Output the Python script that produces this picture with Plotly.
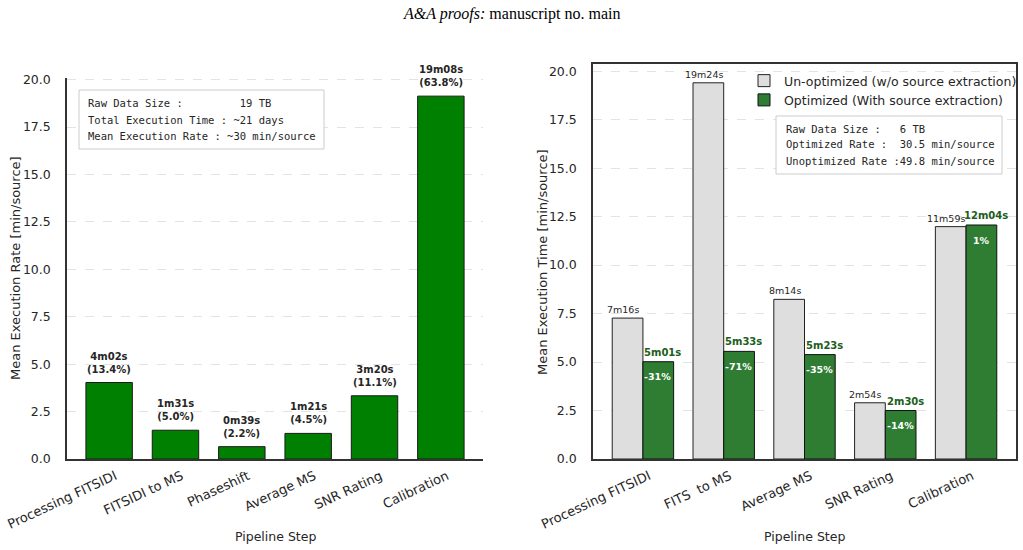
import plotly.graph_objects as go

# ---------------- data ----------------
left_steps = ["Processing FITSIDI", "FITSIDI to MS", "Phaseshift", "Average MS", "SNR Rating", "Calibration"]
left_values = [4.033, 1.517, 0.65, 1.35, 3.333, 19.133]
left_time_labels = ["4m02s", "1m31s", "0m39s", "1m21s", "3m20s", "19m08s"]
left_pct_labels = ["13.4%", "5.0%", "2.2%", "4.5%", "11.1%", "63.8%"]

right_steps = ["Processing FITSIDI", "FITS  to MS", "Average MS", "SNR Rating", "Calibration"]
unopt_values = [7.267, 19.4, 8.233, 2.9, 11.983]
opt_values = [5.017, 5.55, 5.383, 2.5, 12.067]
unopt_labels = ["7m16s", "19m24s", "8m14s", "2m54s", "11m59s"]
opt_labels = ["5m01s", "5m33s", "5m23s", "2m30s", "12m04s"]
change_labels = ["-31%", "-71%", "-35%", "-14%", "1%"]

left_info = ["Raw Data Size :         19 TB",
             "Total Execution Time : ~21 days",
             "Mean Execution Rate : ~30 min/source"]
right_info = ["Raw Data Size :   6 TB",
              "Optimized Rate :  30.5 min/source",
              "Unoptimized Rate :49.8 min/source"]

x_title = "Pipeline Step"
left_y_title = "Mean Execution Rate [min/source]"
right_y_title = "Mean Execution Time [min/source]"

# ---------------- style ----------------
W, H = 1023, 550
SANS = "DejaVu Sans"
MONO = "DejaVu Sans Mono"
TXT = "#262626"
GREEN = "#008000"
GREY = "#dedede"
DGREEN = "#2e7d32"
DGREEN_TXT = "#1b5e20"
GRID = "#e3e3e3"
SPINE = "#333333"


def px_x(p):
    return p / W


def px_y(p):
    return 1 - p / H


def nb(s):
    return s.replace(" ", "\u00a0")


fig = go.Figure()

# left chart
fig.add_trace(go.Bar(
    x=left_steps, y=left_values, width=0.7,
    marker=dict(color=GREEN, line=dict(color="#1a1a1a", width=1)),
    xaxis="x", yaxis="y", showlegend=False, hoverinfo="skip"))

# right chart
fig.add_trace(go.Bar(
    x=right_steps, y=unopt_values, width=0.38, offset=-0.38,
    name="Un-optimized (w/o source extraction)",
    marker=dict(color=GREY, line=dict(color="#222222", width=1)),
    xaxis="x2", yaxis="y2", hoverinfo="skip"))
fig.add_trace(go.Bar(
    x=right_steps, y=opt_values, width=0.38, offset=0.0,
    name="Optimized (With source extraction)",
    marker=dict(color=DGREEN, line=dict(color="#111111", width=1)),
    xaxis="x2", yaxis="y2", hoverinfo="skip"))

annotations = []
for s, v, t, p in zip(left_steps, left_values, left_time_labels, left_pct_labels):
    annotations.append(dict(
        x=s, y=v, xref="x", yref="y", text=f"<b>{t}<br>({p})</b>",
        showarrow=False, yanchor="bottom", yshift=6,
        font=dict(family=SANS, size=10, color=TXT)))

for i, s in enumerate(right_steps):
    annotations.append(dict(
        x=s, y=unopt_values[i], xref="x2", yref="y2", text=unopt_labels[i],
        showarrow=False, yanchor="bottom", yshift=1, xshift=-20,
        font=dict(family=SANS, size=9.5, color=TXT)))
    annotations.append(dict(
        x=s, y=opt_values[i], xref="x2", yref="y2", text=f"<b>{opt_labels[i]}</b>",
        showarrow=False, yanchor="bottom", yshift=2, xshift=20,
        font=dict(family=SANS, size=10, color=DGREEN_TXT)))
    annotations.append(dict(
        x=s, y=opt_values[i], xref="x2", yref="y2", text=f"<b>{change_labels[i]}</b>",
        showarrow=False, yanchor="middle", yshift=-15, xshift=15,
        font=dict(family=SANS, size=9.5, color="white")))

# info boxes
shapes = [
    dict(type="rect", xref="paper", yref="paper",
         x0=px_x(79), x1=px_x(324), y0=px_y(149), y1=px_y(90),
         line=dict(color="#cccccc", width=1), fillcolor="rgba(255,255,255,0.9)", layer="above"),
    dict(type="rect", xref="paper", yref="paper",
         x0=px_x(776), x1=px_x(1002), y0=px_y(174), y1=px_y(116),
         line=dict(color="#cccccc", width=1), fillcolor="rgba(255,255,255,0.9)", layer="above"),
]
for line, yy in zip(left_info, [103, 119.5, 136]):
    annotations.append(dict(
        x=px_x(86), y=px_y(yy), xref="paper", yref="paper", text=nb(line),
        showarrow=False, xanchor="left", yanchor="middle",
        font=dict(family=MONO, size=10.5, color=TXT)))
for line, yy in zip(right_info, [128.5, 144.5, 161]):
    annotations.append(dict(
        x=px_x(784), y=px_y(yy), xref="paper", yref="paper", text=nb(line),
        showarrow=False, xanchor="left", yanchor="middle",
        font=dict(family=MONO, size=10.5, color=TXT)))

# axis titles
TFONT = dict(family=SANS, size=12.5, color=TXT)
YFONT = dict(family=SANS, size=13, color=TXT)
annotations += [
    dict(x=px_x(275), y=px_y(536), xref="paper", yref="paper", text=x_title,
         showarrow=False, xanchor="center", yanchor="middle", font=TFONT),
    dict(x=px_x(804.5), y=px_y(536), xref="paper", yref="paper", text=x_title,
         showarrow=False, xanchor="center", yanchor="middle", font=TFONT),
    dict(x=px_x(15), y=px_y(268), xref="paper", yref="paper", text=left_y_title,
         showarrow=False, xanchor="center", yanchor="middle", textangle=-90, font=YFONT),
    dict(x=px_x(542), y=px_y(262), xref="paper", yref="paper", text=right_y_title,
         showarrow=False, xanchor="center", yanchor="middle", textangle=-90, font=YFONT),
]

# header
annotations.append(dict(
    x=0.5, y=px_y(14), xref="paper", yref="paper",
    text="<i>A&amp;A proofs:</i> manuscript no. main", showarrow=False,
    xanchor="center", yanchor="middle",
    font=dict(family="Liberation Serif", size=16, color="#000000")))

axis_common = dict(
    zeroline=False, ticks="", showline=True, linecolor=SPINE, linewidth=1.5,
    automargin=False,
)
YTICK = dict(family=SANS, size=12.5, color=TXT)
XTICK = dict(family=SANS, size=13, color=TXT)

fig.update_layout(
    width=W, height=H, autosize=False,
    margin=dict(l=0, r=0, t=0, b=0),
    paper_bgcolor="white", plot_bgcolor="white",
    barmode="overlay",
    showlegend=True,
    legend=dict(x=px_x(744), y=px_y(66), xanchor="left", yanchor="top",
                bgcolor="rgba(0,0,0,0)", borderwidth=0,
                font=dict(family=SANS, size=12.5, color=TXT),
                tracegroupgap=0, itemclick=False),
    xaxis=dict(domain=[px_x(67), px_x(483)], range=[-0.635, 5.635],
               type="category", anchor="y", tickangle=-25, tickfont=XTICK,
               ticklabelstandoff=3, ticklabelshift=6,
               showgrid=False, mirror=False, **axis_common),
    yaxis=dict(domain=[px_y(459), px_y(78)], range=[0, max(left_values) * 1.05],
               anchor="x", tickvals=[0, 2.5, 5, 7.5, 10, 12.5, 15, 17.5, 20],
               tickformat=".1f", ticklabelstandoff=12, tickfont=YTICK,
               showgrid=True, gridcolor=GRID, griddash="dash", gridwidth=1,
               mirror=False, **axis_common),
    xaxis2=dict(domain=[px_x(593), px_x(1016)], range=[-0.618, 4.618],
                type="category", anchor="y2", tickangle=-25, tickfont=XTICK,
                ticklabelstandoff=3, ticklabelshift=6,
                tickmode="array", tickvals=right_steps, ticktext=[nb(s) for s in right_steps],
                showgrid=False, mirror=True, **axis_common),
    yaxis2=dict(domain=[px_y(459), px_y(64)], range=[0, max(unopt_values) * 1.05],
                anchor="x2", tickvals=[0, 2.5, 5, 7.5, 10, 12.5, 15, 17.5, 20],
                tickformat=".1f", ticklabelstandoff=12, tickfont=YTICK,
                showgrid=True, gridcolor=GRID, griddash="dash", gridwidth=1,
                mirror=True, **axis_common),
    annotations=annotations,
    shapes=shapes,
)

fig.write_html("out.html")
